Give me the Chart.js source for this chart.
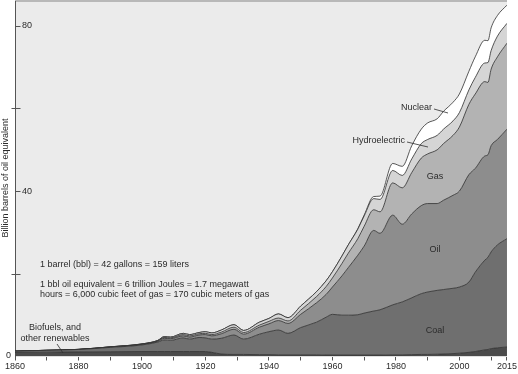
<!DOCTYPE html>
<html>
<head>
<meta charset="utf-8">
<script src="https://cdn.jsdelivr.net/npm/chart.js@4.4.0/dist/chart.umd.min.js"></script>
<style>
  html, body { margin: 0; padding: 0; background: #fff; }
</style>
</head>
<body>
<canvas id="energy-chart" width="518" height="374"></canvas>
<script>
// Datos (miles de millones de barriles equivalentes de petróleo, valores por capa)
const years = [1860, 1870, 1880, 1890, 1900, 1905, 1907, 1909, 1913, 1915,
  1918, 1920, 1922, 1925, 1929, 1932, 1937, 1940, 1943, 1946,
  1950, 1955, 1958, 1960, 1963, 1965, 1968, 1970, 1973, 1975,
  1979, 1982, 1985, 1988, 1990, 1993, 1995, 1998, 2000, 2003,
  2005, 2008, 2009, 2010, 2012, 2015];

const biofuels = [1.0, 1.05, 1.1, 1.15, 1.2, 1.2, 1.2, 1.2, 1.2, 1.2,
  1.2, 1.2, 1.0, 0.6, 0.5, 0.5, 0.45, 0.45, 0.4, 0.4,
  0.4, 0.4, 0.35, 0.35, 0.35, 0.35, 0.35, 0.35, 0.35, 0.35,
  0.4, 0.4, 0.45, 0.5, 0.5, 0.55, 0.6, 0.7, 0.8, 1.0,
  1.2, 1.6, 1.7, 1.9, 2.1, 2.3];

const coal = [0.3, 0.45, 0.6, 1.05, 1.6, 2.3, 2.8, 2.7, 3.3, 3.0,
  3.4, 3.3, 3.2, 3.8, 4.7, 3.7, 4.95, 5.55, 6.0, 5.2,
  6.6, 7.9, 9.15, 9.85, 9.65, 9.65, 9.75, 10.15, 10.65, 10.95,
  12.1, 12.8, 13.75, 14.7, 15.1, 15.45, 15.6, 15.8, 16.0, 17.0,
  19.2, 21.7, 22.3, 23.4, 24.9, 26.2];

const oil = [0, 0, 0.02, 0.1, 0.15, 0.2, 0.4, 0.4, 0.5, 0.5,
  0.6, 0.8, 0.8, 1.1, 1.4, 1.2, 1.7, 1.9, 2.3, 2.4,
  3.2, 4.7, 5.5, 6.6, 9.5, 11.5, 14.4, 16.2, 19.5, 18.5,
  21.7, 18.8, 20.3, 21.3, 21.4, 21.0, 21.6, 22.5, 23.2, 26.0,
  25.1, 25.2, 24.8, 25.7, 25.5, 26.5];

const gas = [0, 0, 0, 0.02, 0.05, 0.1, 0.2, 0.2, 0.3, 0.3,
  0.3, 0.3, 0.3, 0.4, 0.5, 0.4, 0.5, 0.6, 0.6, 0.6,
  1.0, 1.5, 1.9, 2.2, 3.0, 3.5, 4.0, 4.8, 5.0, 5.2,
  7.8, 8.8, 10.0, 11.5, 12.0, 13.0, 13.7, 14.5, 15.5, 17.0,
  18.0, 18.0, 17.5, 18.5, 20.0, 20.8];

const hydro = [0, 0, 0, 0.02, 0.05, 0.1, 0.2, 0.2, 0.3, 0.3,
  0.3, 0.4, 0.4, 0.5, 0.6, 0.5, 0.7, 0.7, 1.0, 0.8,
  1.0, 1.2, 1.4, 1.5, 1.8, 2.0, 2.3, 2.5, 2.7, 3.0,
  3.0, 3.0, 3.3, 3.5, 3.5, 3.5, 3.5, 3.5, 3.5, 3.5,
  4.0, 4.5, 4.8, 4.5, 5.0, 4.8];

const nuclear = [0, 0, 0, 0, 0, 0, 0, 0, 0, 0,
  0, 0, 0, 0, 0, 0, 0, 0, 0, 0,
  0, 0, 0, 0, 0, 0, 0.1, 0.2, 0.5, 0.8,
  1.7, 2.2, 3.2, 3.5, 4.0, 4.0, 4.3, 4.5, 4.5, 4.5,
  5.0, 5.5, 5.3, 5.5, 5.0, 4.4];

// Ejes
const xTickValues = [1860, 1870, 1880, 1890, 1900, 1910, 1920, 1930, 1940, 1950,
  1960, 1970, 1980, 1990, 2000, 2010, 2015];
const xLabelValues = [1860, 1880, 1900, 1920, 1940, 1960, 1980, 2000, 2015];
const yTickValues = [20, 40, 60, 80];
const yLabelValues = [40, 80];
const yTitle = "Billion barrels of oil equivalent";

const FONT = '"Liberation Sans", Arial, sans-serif';
const TEXT_COLOR = "#2b2b2b";
const LINE_COLOR = "#2e2e2e";

// Textos y flechas dentro del gráfico
const notes = [
  { text: "1 barrel (bbl) = 42 gallons = 159 liters", x: 40, y: 265, align: "left" },
  { text: "1 bbl oil equivalent = 6 trillion Joules = 1.7 megawatt", x: 40, y: 285, align: "left" },
  { text: "hours = 6,000 cubic feet of gas = 170 cubic meters of gas", x: 40, y: 295, align: "left" },
  { text: "Biofuels, and", x: 55, y: 328, align: "center" },
  { text: "other renewables", x: 55, y: 339, align: "center" },
  { text: "Nuclear", x: 432, y: 108, align: "right" },
  { text: "Hydroelectric", x: 405, y: 141, align: "right" },
  { text: "Gas", x: 435, y: 177, align: "center" },
  { text: "Oil", x: 435, y: 250, align: "center" },
  { text: "Coal", x: 435, y: 331, align: "center" },
];
const pointers = [
  [57, 344, 63, 353],
  [434, 109, 448, 113],
  [407, 142, 428, 147],
];

// Capas apiladas
const layer = (label, data, color, fill) => ({
  label,
  data,
  backgroundColor: color,
  borderColor: LINE_COLOR,
  borderWidth: 0.8,
  fill,
  pointRadius: 0,
  cubicInterpolationMode: "monotone",
});

// Fondo, marcas del eje Y y textos
const paperPlugin = {
  id: "paper",
  beforeDraw(chart) {
    const { ctx, chartArea: a } = chart;
    ctx.save();
    ctx.fillStyle = "#ebebeb";
    ctx.fillRect(a.left, a.top, a.right - a.left, a.bottom - a.top);
    ctx.fillStyle = "#b8b8b8";
    ctx.fillRect(a.left, 0, a.right - a.left, 2);
    ctx.restore();
  },
  afterDraw(chart) {
    const { ctx, chartArea: a } = chart;
    const yScale = chart.scales.y;
    ctx.save();
    ctx.strokeStyle = "#555";
    ctx.lineWidth = 1;
    yTickValues.forEach((v) => {
      const py = Math.round(yScale.getPixelForValue(v)) + 0.5;
      const major = yLabelValues.includes(v);
      ctx.beginPath();
      ctx.moveTo(a.left + (major ? 0.5 : -3.5), py);
      ctx.lineTo(a.left + 5.5, py);
      ctx.stroke();
    });

    ctx.font = "9px " + FONT;
    ctx.fillStyle = TEXT_COLOR;
    ctx.textBaseline = "middle";
    ctx.textAlign = "left";
    yLabelValues.forEach((v) => {
      ctx.fillText(String(v), a.left + 7, yScale.getPixelForValue(v));
    });
    ctx.textAlign = "center";
    ctx.fillText("0", 8.5, yScale.getPixelForValue(0) - 1);

    ctx.save();
    ctx.translate(6, 178);
    ctx.rotate(-Math.PI / 2);
    ctx.fillText(yTitle, 0, 0);
    ctx.restore();

    notes.forEach((n) => {
      ctx.textAlign = n.align;
      ctx.fillText(n.text, n.x, n.y);
    });

    ctx.strokeStyle = LINE_COLOR;
    ctx.lineWidth = 0.8;
    pointers.forEach(([x1, y1, x2, y2]) => {
      ctx.beginPath();
      ctx.moveTo(x1, y1);
      ctx.lineTo(x2, y2);
      ctx.stroke();
    });
    ctx.restore();
  },
};

const ctx = document.getElementById("energy-chart").getContext("2d");
new Chart(ctx, {
  type: "line",
  data: {
    labels: years,
    datasets: [
      layer("Biofuels, and other renewables", biofuels, "#4b4b4b", "origin"),
      layer("Coal", coal, "#6f6f6f", "-1"),
      layer("Oil", oil, "#8d8d8d", "-1"),
      layer("Gas", gas, "#b3b3b3", "-1"),
      layer("Hydroelectric", hydro, "#d5d5d5", "-1"),
      layer("Nuclear", nuclear, "#ffffff", "-1"),
    ],
  },
  options: {
    responsive: false,
    animation: false,
    devicePixelRatio: 1,
    layout: { padding: { top: 1, right: 11, bottom: 0, left: 0 } },
    plugins: {
      legend: { display: false },
      tooltip: { enabled: false },
    },
    scales: {
      x: {
        type: "linear",
        min: 1860,
        max: 2015,
        afterBuildTicks: (scale) => {
          scale.ticks = xTickValues.map((v) => ({ value: v }));
        },
        afterFit: (scale) => {
          scale.height = 17.5;
        },
        ticks: {
          autoSkip: false,
          maxRotation: 0,
          padding: 1,
          color: TEXT_COLOR,
          font: { size: 9, family: FONT },
          callback: (v) => (xLabelValues.includes(v) ? String(v) : ""),
        },
        grid: { drawOnChartArea: false, tickLength: 4, color: "#555" },
        border: { display: false },
      },
      y: {
        stacked: true,
        min: 0,
        max: 86,
        afterFit: (scale) => {
          scale.width = 15;
        },
        ticks: { display: false },
        grid: { display: false },
        border: { color: "#555", width: 1 },
      },
    },
  },
  plugins: [paperPlugin],
});
</script>
</body>
</html>
